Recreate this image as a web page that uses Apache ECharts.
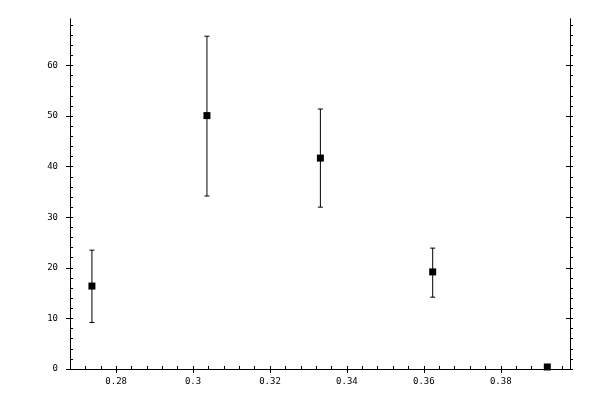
<!DOCTYPE html>
<html>
<head>
<meta charset="utf-8">
<script src="https://cdn.jsdelivr.net/npm/echarts@6/dist/echarts.min.js"></script>
<style>
html,body{margin:0;padding:0;background:#fff;}
#chart{width:600px;height:400px;}
</style>
</head>
<body>
<div id="chart"></div>
<script>
// ---- data ----
const xValues = [0.2737, 0.3036, 0.3331, 0.3623, 0.3921];
const yValues = [16.4, 50.1, 41.7, 19.2, 0.4];
const yLower  = [9.2, 34.2, 32.0, 14.2, 0.4];
const yUpper  = [23.5, 65.8, 51.4, 23.9, 0.4];
const xTickLabels = [0.28, 0.30, 0.32, 0.34, 0.36, 0.38];
const yTickLabels = [0, 10, 20, 30, 40, 50, 60];

const XMIN = 0.268, XMAX = 0.398;
const YMIN = 0, YMAX = 69.2;

function range(a, b, step) {
  const out = [];
  const n = Math.round((b - a) / step);
  for (let i = 0; i <= n; i++) out.push(+(a + i * step).toFixed(6));
  return out;
}
const xAllTicks = range(0.268, 0.396, 0.004);
const yAllTicks = range(0, 68, 2);

const FONT = {fontFamily: 'DejaVu Sans Mono', fontSize: 9, color: '#000'};
const LINE = {show: true, lineStyle: {color: '#000', width: 1}};

function xAxisDef(pos, inside, len, ticks, label) {
  return {
    type: 'value', position: pos, min: XMIN, max: XMAX,
    axisLine: LINE,
    axisTick: {show: true, inside: inside, length: len, customValues: ticks, lineStyle: {color: '#000', width: 1}},
    axisLabel: label ? Object.assign({show: true, margin: 8, customValues: xTickLabels}, FONT) : {show: false},
    splitLine: {show: false}
  };
}
function yAxisDef(pos, inside, len, ticks, label) {
  return {
    type: 'value', position: pos, min: YMIN, max: YMAX,
    axisLine: LINE,
    axisTick: {show: true, inside: inside, length: len, customValues: ticks, lineStyle: {color: '#000', width: 1}},
    axisLabel: label ? Object.assign({show: true, margin: 12, customValues: yTickLabels}, FONT) : {show: false},
    splitLine: {show: false}
  };
}

const points = xValues.map((x, i) => [x, yValues[i]]);
const bars = xValues.map((x, i) => [x, yLower[i], yUpper[i]]);

const chart = echarts.init(document.getElementById('chart'), null, {renderer: 'canvas'});
chart.setOption({
  backgroundColor: '#fff',
  animation: false,
  grid: {left: 70, right: 30, top: 19, bottom: 31, containLabel: false},
  xAxis: [
    xAxisDef('bottom', true, 3, xAllTicks, true),
    xAxisDef('bottom', false, 4, xTickLabels, false),
    xAxisDef('top', false, 3, xAllTicks, false),
    xAxisDef('top', true, 4, xTickLabels, false)
  ],
  yAxis: [
    yAxisDef('left', true, 3, yAllTicks, true),
    yAxisDef('left', false, 4, yTickLabels, false),
    yAxisDef('right', false, 3, yAllTicks, false),
    yAxisDef('right', true, 4, yTickLabels, false)
  ],
  series: [
    {
      type: 'custom',
      xAxisIndex: 0, yAxisIndex: 0,
      data: bars,
      clip: false,
      renderItem: function (params, api) {
        const x = api.value(0);
        const lo = api.coord([x, api.value(1)]);
        const hi = api.coord([x, api.value(2)]);
        if (Math.abs(hi[1] - lo[1]) < 1) return null;
        const w = 2.5;
        const style = {stroke: '#000', lineWidth: 1};
        return {
          type: 'group',
          children: [
            {type: 'line', shape: {x1: lo[0], y1: lo[1], x2: hi[0], y2: hi[1]}, style: style},
            {type: 'line', shape: {x1: lo[0] - w, y1: lo[1], x2: lo[0] + w, y2: lo[1]}, style: style},
            {type: 'line', shape: {x1: hi[0] - w, y1: hi[1], x2: hi[0] + w, y2: hi[1]}, style: style}
          ]
        };
      }
    },
    {
      type: 'scatter',
      xAxisIndex: 0, yAxisIndex: 0,
      data: points,
      symbol: 'rect',
      symbolSize: 7,
      clip: false,
      itemStyle: {color: '#000', opacity: 1},
      z: 5
    }
  ]
});
</script>
</body>
</html>
